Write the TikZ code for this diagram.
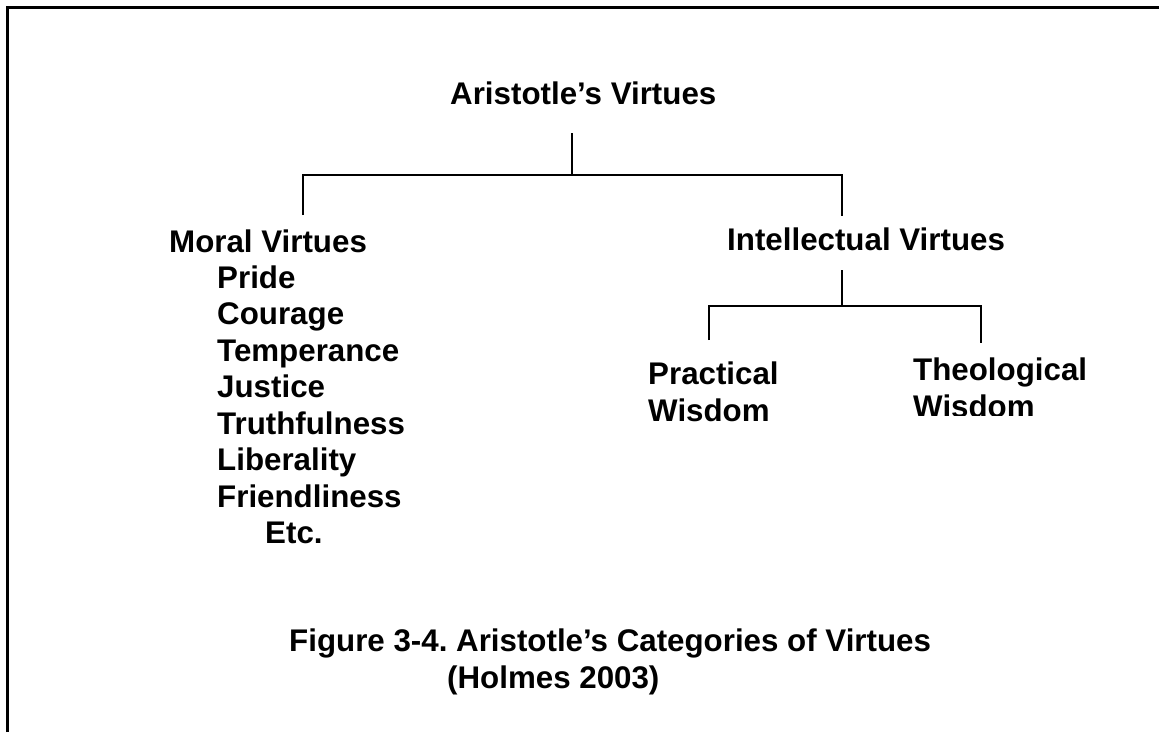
\documentclass[tikz,border=0pt]{standalone}
\usepackage{fontspec}
\setmainfont{Liberation Sans}
\frenchspacing
\begin{document}
\begin{tikzpicture}[x=1pt,y=-1pt,
  lbl/.style={inner sep=0pt, anchor=base west, font=\fontsize{31.3}{36.5}\selectfont\bfseries},
  link/.style={line width=2pt, line cap=butt},
  frame/.style={line width=3pt}]
\useasboundingbox (0,0) rectangle (1159,732);

% page frame (top and left edges)
\draw[frame] (7.5,732) -- (7.5,7.5) -- (1159,7.5);

% headings
\node[lbl] (root)  at (450,104) {Aristotle’s Virtues};
\node[lbl] (moral) at (169,252) {Moral Virtues};
\node[lbl] (intel) at (727,250) {Intellectual Virtues};

% list of moral virtues
\node[lbl] (m1) at (217,288) {Pride};
\node[lbl] (m2) at (217,324.5) {Courage};
\node[lbl] (m3) at (217,361) {Temperance};
\node[lbl] (m4) at (217,397.5) {Justice};
\node[lbl] (m5) at (217,434) {Truthfulness};
\node[lbl] (m6) at (217,470.5) {Liberality};
\node[lbl] (m7) at (217,507) {Friendliness};
\node[lbl] (m8) at (265,543.5) {Etc.};

% intellectual branches
\node[lbl] (prac)  at (648,384) {Practical};
\node[lbl] (prac2) at (648,421) {Wisdom};
\node[lbl] (theo)  at (913,380) {Theological};
\begin{scope}
  \clip (900,390) rectangle (1120,415.5);
  \node[lbl] (theo2) at (913,417) {Wisdom};
\end{scope}

% caption
\node[lbl] (cap1) at (289,651) {Figure 3-4. Aristotle’s Categories of Virtues};
\node[lbl] (cap2) at (447,688) {(Holmes 2003)};

% junction points of the tree
\coordinate (r0) at (572,133);
\coordinate (r1) at (572,175);
\coordinate (ml) at (303,175);
\coordinate (mb) at (303,215);
\coordinate (il) at (842,175);
\coordinate (ib) at (842,216);
\coordinate (i0) at (842,270);
\coordinate (i1) at (842,306);
\coordinate (pl) at (709,306);
\coordinate (pb) at (709,340);
\coordinate (tl) at (981,306);
\coordinate (tb) at (981,343);

\draw[link] (r0) -- (r1);
\draw[link] (mb) -- (ml) -- (il) -- (ib);
\draw[link] (i0) -- (i1);
\draw[link] (pb) -- (pl) -- (tl) -- (tb);
\end{tikzpicture}
\end{document}
